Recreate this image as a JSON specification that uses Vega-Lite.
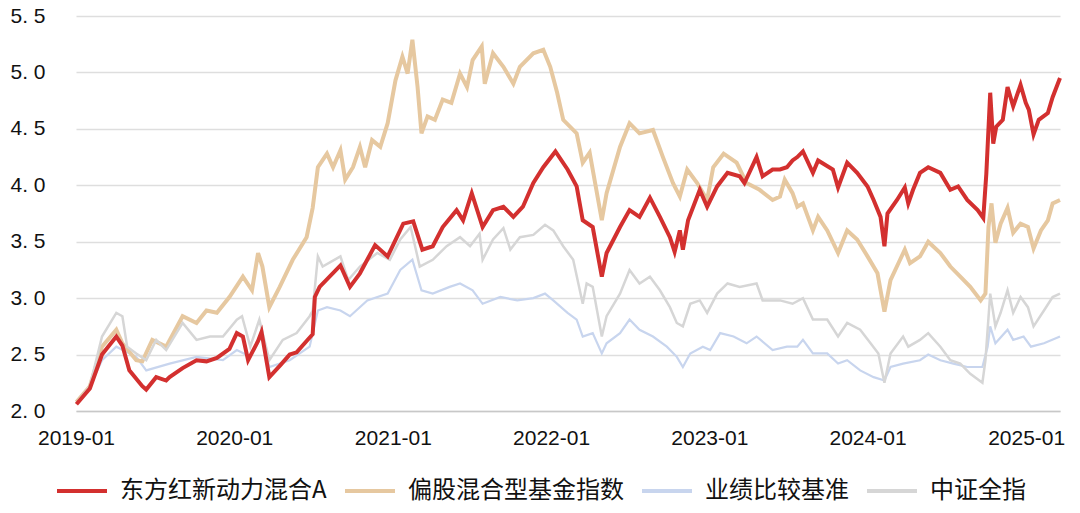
{
  "$schema": "https://vega.github.io/schema/vega-lite/v6.json",
  "autosize": {"type": "none"},
  "padding": {"left": 76, "top": 16, "right": 20, "bottom": 102},
  "width": 984,
  "height": 395,
  "background": "#ffffff",
  "config": {
    "view": {"stroke": null},
    "font": "Liberation Sans"
  },
  "datasets": {
    "red": [
      {"d":"2019-01-02","v":2.06},{"d":"2019-02-02","v":2.2},{"d":"2019-03-02","v":2.5},{"d":"2019-04-04","v":2.66},
      {"d":"2019-04-18","v":2.58},{"d":"2019-05-04","v":2.36},{"d":"2019-06-03","v":2.22},{"d":"2019-06-12","v":2.19},
      {"d":"2019-07-05","v":2.3},{"d":"2019-07-28","v":2.27},{"d":"2019-08-05","v":2.3},{"d":"2019-09-04","v":2.38},
      {"d":"2019-10-06","v":2.45},{"d":"2019-10-29","v":2.44},{"d":"2019-11-22","v":2.47},{"d":"2019-12-21","v":2.55},
      {"d":"2020-01-07","v":2.69},{"d":"2020-01-21","v":2.66},{"d":"2020-02-02","v":2.45},{"d":"2020-02-25","v":2.62},
      {"d":"2020-03-04","v":2.7},{"d":"2020-03-22","v":2.3},{"d":"2020-04-15","v":2.4},{"d":"2020-05-08","v":2.5},
      {"d":"2020-05-24","v":2.52},{"d":"2020-06-16","v":2.62},{"d":"2020-06-30","v":2.68},{"d":"2020-07-05","v":3.01},
      {"d":"2020-07-16","v":3.1},{"d":"2020-09-02","v":3.29},{"d":"2020-09-24","v":3.1},{"d":"2020-10-17","v":3.22},
      {"d":"2020-11-21","v":3.47},{"d":"2020-12-20","v":3.37},{"d":"2021-01-25","v":3.66},{"d":"2021-02-17","v":3.68},
      {"d":"2021-03-10","v":3.43},{"d":"2021-04-03","v":3.46},{"d":"2021-04-26","v":3.63},{"d":"2021-05-28","v":3.78},
      {"d":"2021-06-12","v":3.69},{"d":"2021-07-02","v":3.93},{"d":"2021-07-27","v":3.63},{"d":"2021-08-20","v":3.78},
      {"d":"2021-09-13","v":3.81},{"d":"2021-10-06","v":3.72},{"d":"2021-10-28","v":3.81},{"d":"2021-11-21","v":4.02},
      {"d":"2021-12-14","v":4.16},{"d":"2022-01-11","v":4.3},{"d":"2022-02-08","v":4.14},{"d":"2022-03-01","v":3.99},
      {"d":"2022-03-15","v":3.69},{"d":"2022-04-07","v":3.63},{"d":"2022-04-28","v":3.19},{"d":"2022-05-09","v":3.4},
      {"d":"2022-06-09","v":3.63},{"d":"2022-07-01","v":3.78},{"d":"2022-07-24","v":3.72},{"d":"2022-08-17","v":3.89},
      {"d":"2022-09-09","v":3.72},{"d":"2022-10-02","v":3.54},{"d":"2022-10-13","v":3.41},{"d":"2022-10-25","v":3.6},
      {"d":"2022-11-01","v":3.43},{"d":"2022-11-13","v":3.69},{"d":"2022-12-10","v":3.96},{"d":"2022-12-27","v":3.81},
      {"d":"2023-01-19","v":3.99},{"d":"2023-02-12","v":4.11},{"d":"2023-03-12","v":4.08},{"d":"2023-03-23","v":4.02},
      {"d":"2023-04-20","v":4.25},{"d":"2023-05-04","v":4.08},{"d":"2023-05-27","v":4.14},{"d":"2023-06-13","v":4.14},
      {"d":"2023-06-29","v":4.16},{"d":"2023-07-12","v":4.22},{"d":"2023-07-23","v":4.25},{"d":"2023-08-05","v":4.3},
      {"d":"2023-08-28","v":4.11},{"d":"2023-09-09","v":4.22},{"d":"2023-10-13","v":4.14},{"d":"2023-10-25","v":3.98},
      {"d":"2023-11-15","v":4.2},{"d":"2023-12-08","v":4.11},{"d":"2024-01-01","v":3.99},{"d":"2024-01-15","v":3.87},
      {"d":"2024-01-31","v":3.72},{"d":"2024-02-09","v":3.46},{"d":"2024-02-16","v":3.75},{"d":"2024-03-09","v":3.87},
      {"d":"2024-03-27","v":3.98},{"d":"2024-04-04","v":3.84},{"d":"2024-04-15","v":3.96},{"d":"2024-05-01","v":4.11},
      {"d":"2024-05-20","v":4.16},{"d":"2024-06-17","v":4.11},{"d":"2024-07-10","v":3.96},{"d":"2024-07-28","v":3.99},
      {"d":"2024-08-18","v":3.87},{"d":"2024-09-11","v":3.78},{"d":"2024-09-24","v":3.71},{"d":"2024-10-01","v":4.1},
      {"d":"2024-10-10","v":4.82},{"d":"2024-10-17","v":4.37},{"d":"2024-10-24","v":4.52},{"d":"2024-11-08","v":4.58},
      {"d":"2024-11-19","v":4.87},{"d":"2024-12-02","v":4.7},{"d":"2024-12-19","v":4.89},{"d":"2024-12-31","v":4.73},
      {"d":"2025-01-07","v":4.67},{"d":"2025-01-18","v":4.45},{"d":"2025-01-30","v":4.58},{"d":"2025-02-20","v":4.64},
      {"d":"2025-03-03","v":4.78},{"d":"2025-03-20","v":4.95}
    ],
    "tan": [
      {"d":"2019-01-02","v":2.08},{"d":"2019-02-02","v":2.22},{"d":"2019-03-02","v":2.57},{"d":"2019-04-04","v":2.72},
      {"d":"2019-04-18","v":2.6},{"d":"2019-05-20","v":2.45},{"d":"2019-06-03","v":2.44},{"d":"2019-06-26","v":2.63},
      {"d":"2019-07-28","v":2.57},{"d":"2019-09-04","v":2.84},{"d":"2019-10-06","v":2.78},{"d":"2019-10-29","v":2.89},
      {"d":"2019-11-22","v":2.87},{"d":"2019-12-21","v":3.01},{"d":"2020-01-21","v":3.19},{"d":"2020-02-11","v":3.07},
      {"d":"2020-02-25","v":3.4},{"d":"2020-03-06","v":3.28},{"d":"2020-03-22","v":2.92},{"d":"2020-04-15","v":3.1},
      {"d":"2020-05-15","v":3.34},{"d":"2020-06-16","v":3.54},{"d":"2020-06-30","v":3.8},{"d":"2020-07-12","v":4.16},
      {"d":"2020-08-02","v":4.28},{"d":"2020-08-16","v":4.16},{"d":"2020-09-02","v":4.31},{"d":"2020-09-13","v":4.05},
      {"d":"2020-10-01","v":4.16},{"d":"2020-10-17","v":4.34},{"d":"2020-10-29","v":4.16},{"d":"2020-11-14","v":4.4},
      {"d":"2020-12-03","v":4.34},{"d":"2020-12-20","v":4.55},{"d":"2021-01-07","v":4.93},{"d":"2021-01-23","v":5.14},
      {"d":"2021-02-04","v":4.99},{"d":"2021-02-15","v":5.29},{"d":"2021-02-27","v":4.87},{"d":"2021-03-08","v":4.46},
      {"d":"2021-03-22","v":4.61},{"d":"2021-04-08","v":4.58},{"d":"2021-04-26","v":4.76},{"d":"2021-05-16","v":4.73},
      {"d":"2021-06-05","v":4.99},{"d":"2021-06-21","v":4.87},{"d":"2021-07-04","v":5.11},{"d":"2021-07-25","v":5.23},
      {"d":"2021-08-01","v":4.9},{"d":"2021-08-20","v":5.17},{"d":"2021-09-13","v":5.05},{"d":"2021-10-06","v":4.9},
      {"d":"2021-10-21","v":5.05},{"d":"2021-11-21","v":5.17},{"d":"2021-12-14","v":5.2},{"d":"2021-12-30","v":5.05},
      {"d":"2022-01-15","v":4.82},{"d":"2022-01-29","v":4.58},{"d":"2022-03-01","v":4.46},{"d":"2022-03-15","v":4.2},
      {"d":"2022-03-31","v":4.29},{"d":"2022-04-28","v":3.69},{"d":"2022-05-09","v":3.93},{"d":"2022-06-09","v":4.34},
      {"d":"2022-07-01","v":4.55},{"d":"2022-07-24","v":4.46},{"d":"2022-08-24","v":4.49},{"d":"2022-09-16","v":4.25},
      {"d":"2022-10-09","v":4.02},{"d":"2022-10-25","v":3.9},{"d":"2022-11-11","v":4.14},{"d":"2022-12-04","v":4.02},
      {"d":"2022-12-27","v":3.87},{"d":"2023-01-10","v":4.16},{"d":"2023-02-03","v":4.28},{"d":"2023-03-05","v":4.2},
      {"d":"2023-03-28","v":4.02},{"d":"2023-04-27","v":3.96},{"d":"2023-05-27","v":3.87},{"d":"2023-06-13","v":3.9},
      {"d":"2023-06-24","v":4.05},{"d":"2023-07-12","v":3.93},{"d":"2023-07-23","v":3.81},{"d":"2023-08-05","v":3.84},
      {"d":"2023-08-28","v":3.6},{"d":"2023-09-09","v":3.72},{"d":"2023-09-30","v":3.6},{"d":"2023-10-25","v":3.4},
      {"d":"2023-11-15","v":3.6},{"d":"2023-12-08","v":3.52},{"d":"2024-01-01","v":3.37},{"d":"2024-01-24","v":3.22},
      {"d":"2024-01-31","v":3.07},{"d":"2024-02-09","v":2.88},{"d":"2024-02-23","v":3.16},{"d":"2024-03-16","v":3.34},
      {"d":"2024-03-27","v":3.43},{"d":"2024-04-08","v":3.31},{"d":"2024-05-01","v":3.37},{"d":"2024-05-20","v":3.5},
      {"d":"2024-06-17","v":3.4},{"d":"2024-07-10","v":3.28},{"d":"2024-08-02","v":3.19},{"d":"2024-08-25","v":3.1},
      {"d":"2024-09-18","v":2.98},{"d":"2024-09-29","v":3.04},{"d":"2024-10-06","v":3.63},{"d":"2024-10-13","v":3.84},
      {"d":"2024-10-22","v":3.49},{"d":"2024-11-03","v":3.66},{"d":"2024-11-19","v":3.8},{"d":"2024-12-02","v":3.58},
      {"d":"2024-12-19","v":3.66},{"d":"2025-01-05","v":3.63},{"d":"2025-01-18","v":3.44},{"d":"2025-02-04","v":3.6},
      {"d":"2025-02-20","v":3.69},{"d":"2025-03-03","v":3.84},{"d":"2025-03-20","v":3.87}
    ],
    "gray": [
      {"d":"2019-01-02","v":2.07},{"d":"2019-02-02","v":2.22},{"d":"2019-03-02","v":2.66},{"d":"2019-04-04","v":2.87},
      {"d":"2019-04-18","v":2.84},{"d":"2019-04-29","v":2.57},{"d":"2019-05-20","v":2.51},{"d":"2019-06-12","v":2.45},
      {"d":"2019-07-05","v":2.63},{"d":"2019-07-28","v":2.54},{"d":"2019-09-04","v":2.78},{"d":"2019-10-06","v":2.63},
      {"d":"2019-11-06","v":2.66},{"d":"2019-12-06","v":2.66},{"d":"2020-01-07","v":2.81},{"d":"2020-01-19","v":2.84},
      {"d":"2020-02-07","v":2.57},{"d":"2020-02-28","v":2.81},{"d":"2020-03-22","v":2.45},{"d":"2020-04-22","v":2.63},
      {"d":"2020-05-24","v":2.69},{"d":"2020-06-23","v":2.84},{"d":"2020-06-30","v":2.89},{"d":"2020-07-12","v":3.37},
      {"d":"2020-07-23","v":3.28},{"d":"2020-09-02","v":3.37},{"d":"2020-09-20","v":3.16},{"d":"2020-10-17","v":3.28},
      {"d":"2020-11-26","v":3.4},{"d":"2020-12-25","v":3.34},{"d":"2021-01-18","v":3.52},{"d":"2021-02-11","v":3.63},
      {"d":"2021-03-04","v":3.28},{"d":"2021-04-03","v":3.34},{"d":"2021-05-05","v":3.46},{"d":"2021-06-05","v":3.54},
      {"d":"2021-06-28","v":3.46},{"d":"2021-07-20","v":3.57},{"d":"2021-07-27","v":3.34},{"d":"2021-08-20","v":3.52},
      {"d":"2021-09-13","v":3.62},{"d":"2021-09-29","v":3.43},{"d":"2021-10-21","v":3.54},{"d":"2021-11-21","v":3.56},
      {"d":"2021-12-18","v":3.65},{"d":"2022-01-06","v":3.6},{"d":"2022-01-29","v":3.46},{"d":"2022-02-21","v":3.34},
      {"d":"2022-03-15","v":2.95},{"d":"2022-03-24","v":3.13},{"d":"2022-04-07","v":3.1},{"d":"2022-04-28","v":2.66},
      {"d":"2022-05-09","v":2.84},{"d":"2022-06-09","v":3.04},{"d":"2022-07-01","v":3.25},{"d":"2022-07-24","v":3.13},
      {"d":"2022-08-17","v":3.19},{"d":"2022-09-09","v":3.07},{"d":"2022-10-02","v":2.92},{"d":"2022-10-18","v":2.78},
      {"d":"2022-11-01","v":2.75},{"d":"2022-11-18","v":2.95},{"d":"2022-12-10","v":2.98},{"d":"2022-12-27","v":2.87},
      {"d":"2023-01-19","v":3.04},{"d":"2023-02-12","v":3.13},{"d":"2023-03-12","v":3.1},{"d":"2023-04-20","v":3.13},
      {"d":"2023-05-04","v":2.98},{"d":"2023-06-13","v":2.98},{"d":"2023-07-12","v":2.95},{"d":"2023-08-05","v":3.0},
      {"d":"2023-08-28","v":2.81},{"d":"2023-09-30","v":2.81},{"d":"2023-10-25","v":2.66},{"d":"2023-11-15","v":2.78},
      {"d":"2023-12-15","v":2.72},{"d":"2024-01-08","v":2.6},{"d":"2024-01-26","v":2.51},{"d":"2024-02-09","v":2.25},
      {"d":"2024-02-23","v":2.51},{"d":"2024-03-23","v":2.66},{"d":"2024-04-04","v":2.57},{"d":"2024-05-01","v":2.63},
      {"d":"2024-05-20","v":2.69},{"d":"2024-06-17","v":2.57},{"d":"2024-07-10","v":2.45},{"d":"2024-08-02","v":2.42},
      {"d":"2024-08-25","v":2.33},{"d":"2024-09-22","v":2.25},{"d":"2024-09-29","v":2.45},{"d":"2024-10-10","v":3.04},
      {"d":"2024-10-22","v":2.75},{"d":"2024-11-03","v":2.87},{"d":"2024-11-19","v":3.07},{"d":"2024-12-02","v":2.87},
      {"d":"2024-12-19","v":3.01},{"d":"2025-01-05","v":2.92},{"d":"2025-01-18","v":2.75},{"d":"2025-02-11","v":2.89},
      {"d":"2025-03-03","v":3.01},{"d":"2025-03-20","v":3.04}
    ],
    "blue": [
      {"d":"2019-01-02","v":2.07},{"d":"2019-02-02","v":2.22},{"d":"2019-03-02","v":2.45},{"d":"2019-04-04","v":2.57},
      {"d":"2019-05-20","v":2.48},{"d":"2019-06-12","v":2.36},{"d":"2019-08-05","v":2.42},{"d":"2019-10-06","v":2.48},
      {"d":"2019-12-06","v":2.45},{"d":"2020-01-07","v":2.54},{"d":"2020-02-07","v":2.48},{"d":"2020-03-04","v":2.66},
      {"d":"2020-03-22","v":2.39},{"d":"2020-05-08","v":2.45},{"d":"2020-06-23","v":2.57},{"d":"2020-07-12","v":2.89},
      {"d":"2020-08-02","v":2.92},{"d":"2020-09-02","v":2.89},{"d":"2020-09-24","v":2.84},{"d":"2020-11-03","v":2.98},
      {"d":"2020-12-20","v":3.04},{"d":"2021-01-18","v":3.25},{"d":"2021-02-15","v":3.34},{"d":"2021-03-08","v":3.07},
      {"d":"2021-04-03","v":3.04},{"d":"2021-05-12","v":3.1},{"d":"2021-06-05","v":3.13},{"d":"2021-07-04","v":3.07},
      {"d":"2021-07-27","v":2.95},{"d":"2021-09-06","v":3.01},{"d":"2021-10-15","v":2.98},{"d":"2021-11-21","v":3.0},
      {"d":"2021-12-18","v":3.04},{"d":"2022-01-06","v":2.98},{"d":"2022-02-08","v":2.87},{"d":"2022-03-01","v":2.81},
      {"d":"2022-03-15","v":2.66},{"d":"2022-04-07","v":2.69},{"d":"2022-04-28","v":2.51},{"d":"2022-05-09","v":2.6},
      {"d":"2022-06-09","v":2.69},{"d":"2022-07-01","v":2.81},{"d":"2022-07-24","v":2.72},{"d":"2022-08-24","v":2.66},
      {"d":"2022-09-25","v":2.57},{"d":"2022-10-18","v":2.48},{"d":"2022-11-01","v":2.39},{"d":"2022-11-18","v":2.51},
      {"d":"2022-12-17","v":2.57},{"d":"2023-01-03","v":2.54},{"d":"2023-01-26","v":2.69},{"d":"2023-02-26","v":2.66},
      {"d":"2023-03-28","v":2.6},{"d":"2023-04-20","v":2.66},{"d":"2023-05-27","v":2.54},{"d":"2023-06-29","v":2.57},
      {"d":"2023-07-23","v":2.57},{"d":"2023-08-05","v":2.63},{"d":"2023-08-28","v":2.51},{"d":"2023-09-30","v":2.51},
      {"d":"2023-10-25","v":2.42},{"d":"2023-11-15","v":2.45},{"d":"2023-12-15","v":2.36},{"d":"2024-01-15","v":2.3},
      {"d":"2024-02-09","v":2.27},{"d":"2024-02-23","v":2.39},{"d":"2024-03-23","v":2.42},{"d":"2024-05-01","v":2.45},
      {"d":"2024-05-20","v":2.5},{"d":"2024-06-17","v":2.45},{"d":"2024-07-17","v":2.42},{"d":"2024-08-18","v":2.39},
      {"d":"2024-09-22","v":2.39},{"d":"2024-10-04","v":2.57},{"d":"2024-10-10","v":2.75},{"d":"2024-10-22","v":2.6},
      {"d":"2024-11-19","v":2.72},{"d":"2024-12-02","v":2.63},{"d":"2024-12-26","v":2.66},{"d":"2025-01-12","v":2.57},
      {"d":"2025-02-11","v":2.6},{"d":"2025-03-20","v":2.66}
    ]
  },
  "encoding": {
    "x": {
      "field": "d", "type": "temporal",
      "scale": {"domain": ["2019-01-01", "2025-03-20"], "nice": false},
      "axis": {
        "title": null, "format": "%Y-%m",
        "values": [
          {"year": 2019, "month": 1, "date": 1}, {"year": 2020, "month": 1, "date": 1},
          {"year": 2021, "month": 1, "date": 1}, {"year": 2022, "month": 1, "date": 1},
          {"year": 2023, "month": 1, "date": 1}, {"year": 2024, "month": 1, "date": 1},
          {"year": 2025, "month": 1, "date": 1}
        ],
        "grid": false, "ticks": false, "domain": true, "domainColor": "#c8c8c8", "domainWidth": 1.5,
        "labelFont": "Liberation Sans", "labelFontSize": 21, "labelColor": "#111111",
        "labelPadding": 16, "labelOverlap": false, "labelBound": false, "labelFlush": false
      }
    },
    "y": {
      "field": "v", "type": "quantitative",
      "scale": {"domain": [2, 5.5], "nice": false, "zero": false},
      "axis": {
        "title": null, "values": [2, 2.5, 3, 3.5, 4, 4.5, 5, 5.5],
        "labelExpr": "replace(format(datum.value, '.1f'), '.', '. ')",
        "grid": true, "gridColor": "#dedede", "gridWidth": 1.5,
        "ticks": false, "domain": false,
        "labelFont": "Liberation Sans", "labelFontSize": 21, "labelColor": "#111111",
        "labelPadding": 31
      }
    }
  },
  "layer": [
    {
      "data": {"name": "blue"},
      "mark": {"type": "line", "strokeWidth": 2.2},
      "encoding": {
        "color": {
          "datum": "业绩比较基准",
          "scale": {
            "domain": ["东方红新动力混合A", "偏股混合型基金指数", "业绩比较基准", "中证全指"],
            "range": ["#d3302f", "#e6c8a0", "#c8d5ee", "#d6d6d6"]
          },
          "legend": {
            "title": null, "orient": "none", "direction": "horizontal",
            "legendX": -21, "legendY": 448, "padding": 0, "offset": 0,
            "symbolType": "stroke", "symbolSize": 2500, "symbolStrokeWidth": 4,
            "labelFont": "Noto Sans CJK SC", "labelFontSize": 24, "labelColor": "#111111",
            "labelOffset": 11, "columnPadding": 10, "labelLimit": 0
          }
        }
      }
    },
    {
      "data": {"name": "tan"},
      "mark": {"type": "line", "strokeWidth": 4},
      "encoding": {"color": {"datum": "偏股混合型基金指数"}}
    },
    {
      "data": {"name": "gray"},
      "mark": {"type": "line", "strokeWidth": 2.5},
      "encoding": {"color": {"datum": "中证全指"}}
    },
    {
      "data": {"name": "red"},
      "mark": {"type": "line", "strokeWidth": 4},
      "encoding": {"color": {"datum": "东方红新动力混合A"}}
    }
  ]
}
